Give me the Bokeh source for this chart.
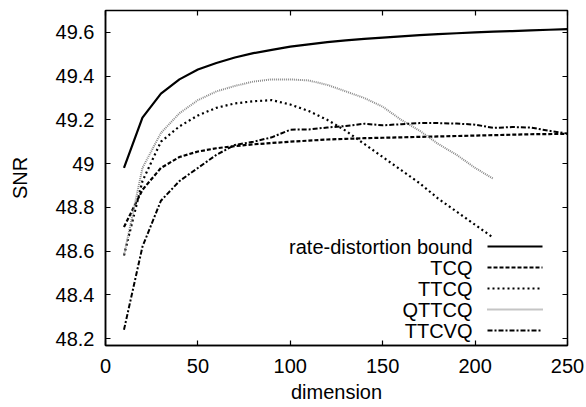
from bokeh.plotting import figure
from bokeh.models import Range1d, FixedTicker, LinearAxis, Label, Arrow
from bokeh.embed import file_html
from bokeh.resources import INLINE

dim = [10, 20, 30, 40, 50, 60, 70, 80, 90, 100, 110, 120, 130, 140, 150, 160,
       170, 180, 190, 200, 210, 220, 230, 240, 250]

bound = [48.98, 49.21, 49.32, 49.385, 49.43, 49.46, 49.485, 49.505, 49.52, 49.535,
         49.545, 49.555, 49.563, 49.57, 49.576, 49.582, 49.587, 49.592, 49.596, 49.6,
         49.603, 49.606, 49.609, 49.612, 49.615]
tcq = [48.71, 48.88, 48.98, 49.03, 49.055, 49.07, 49.08, 49.088, 49.094, 49.10,
       49.105, 49.11, 49.113, 49.116, 49.118, 49.12, 49.122, 49.124, 49.126, 49.128,
       49.13, 49.132, 49.134, 49.135, 49.136]
ttcq_x = dim[:21]
ttcq = [48.58, 48.92, 49.10, 49.17, 49.22, 49.255, 49.275, 49.285, 49.29, 49.27,
        49.24, 49.20, 49.15, 49.09, 49.03, 48.97, 48.91, 48.84, 48.78, 48.72, 48.66]
qttcq = [48.58, 48.98, 49.14, 49.23, 49.29, 49.33, 49.355, 49.375, 49.385, 49.385,
         49.38, 49.36, 49.33, 49.30, 49.26, 49.20, 49.15, 49.09, 49.04, 48.98, 48.93]
ttcvq = [48.24, 48.62, 48.83, 48.92, 48.98, 49.04, 49.085, 49.10, 49.12, 49.155,
         49.156, 49.165, 49.172, 49.182, 49.175, 49.18, 49.185, 49.185, 49.183, 49.178,
         49.163, 49.167, 49.165, 49.15, 49.137]

x_ticks = [0, 50, 100, 150, 200, 250]
y_ticks = [48.2, 48.4, 48.6, 48.8, 49.0, 49.2, 49.4, 49.6]
y_tick_labels = {48.2: "48.2", 48.4: "48.4", 48.6: "48.6", 48.8: "48.8",
                 49.0: "49", 49.2: "49.2", 49.4: "49.4", 49.6: "49.6"}
names = ["rate-distortion bound", "TCQ", "TTCQ", "QTTCQ", "TTCVQ"]

FONT = "Liberation Sans"
FS = "20px"

p = figure(width=584, height=407, output_backend="svg", toolbar_location=None,
           x_range=Range1d(0, 250), y_range=Range1d(48.168, 49.70),
           min_border_left=105, min_border_right=17, min_border_top=10, min_border_bottom=62)
p.grid.visible = False
p.outline_line_color = "black"
p.outline_line_width = 1.5
p.background_fill_color = "white"
p.border_fill_color = "white"

for ax in [p.xaxis[0], p.yaxis[0]]:
    ax.major_tick_in = 5
    ax.major_tick_out = 0
    ax.minor_tick_line_color = None
    ax.axis_line_color = "black"
    ax.axis_line_width = 1.5
    ax.major_tick_line_color = "black"
    ax.major_tick_line_width = 1.2
    ax.major_label_text_font = FONT
    ax.major_label_text_font_size = FS
    ax.major_label_text_color = "black"
    ax.axis_label_text_font = FONT
    ax.axis_label_text_font_size = FS
    ax.axis_label_text_color = "black"
    ax.axis_label_text_font_style = "normal"

p.xaxis.ticker = FixedTicker(ticks=x_ticks)
p.yaxis.ticker = FixedTicker(ticks=y_ticks)
p.yaxis.major_label_overrides = y_tick_labels
p.xaxis.axis_label = "dimension"
p.yaxis.axis_label = "SNR"
p.xaxis.major_label_standoff = 13
p.yaxis.major_label_standoff = 11
p.xaxis.axis_label_standoff = 5
p.yaxis.axis_label_standoff = 22

top = LinearAxis(ticker=FixedTicker(ticks=x_ticks), major_tick_in=5, major_tick_out=0,
                 minor_tick_line_color=None, axis_line_color="black",
                 major_tick_line_color="black", major_tick_line_width=1.2,
                 major_label_overrides={t: "" for t in x_ticks}, major_label_standoff=0)
right = LinearAxis(ticker=FixedTicker(ticks=y_ticks), major_tick_in=5, major_tick_out=0,
                   minor_tick_line_color=None, axis_line_color="black",
                   major_tick_line_color="black", major_tick_line_width=1.2,
                   major_label_overrides={t: "" for t in y_ticks}, major_label_standoff=0)
p.add_layout(top, "above")
p.add_layout(right, "right")

styles = [
    dict(line_color="black", line_width=2.2, line_dash="solid"),
    dict(line_color="black", line_width=2.2, line_dash="4 2"),
    dict(line_color="black", line_width=2.2, line_dash="2 3"),
    dict(line_color="#8a8a8a", line_width=2, line_dash="1 1"),
    dict(line_color="black", line_width=2, line_dash="5 2 2 2"),
]
series_x = [dim, dim, ttcq_x, ttcq_x, dim]
series_y = [bound, tcq, ttcq, qttcq, ttcvq]
for xs, ys, st in zip(series_x, series_y, styles):
    p.line(xs, ys, **st)

# legend (label left, sample right), placed relative to the frame in screen px
for i, (n, st) in enumerate(zip(names, styles)):
    yc = 99 - i * 21
    p.add_layout(Label(x=367, y=yc, x_units="screen", y_units="screen",
                       text=n, text_align="right", text_baseline="middle",
                       text_font=FONT, text_font_size=FS, text_color="black"))
    p.add_layout(Arrow(end=None, start=None, x_start=382, y_start=yc, x_end=437, y_end=yc,
                       start_units="screen", end_units="screen", **st))

open("out.html", "w").write(file_html(p, INLINE))
